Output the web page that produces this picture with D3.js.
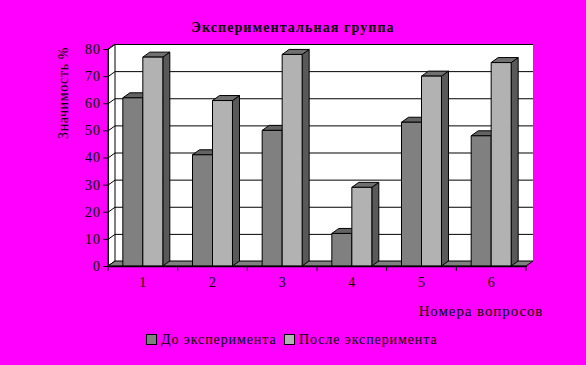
<!DOCTYPE html>
<html><head><meta charset="utf-8">
<script src="https://cdn.jsdelivr.net/npm/d3@7/dist/d3.min.js"></script>
<style>
html,body{margin:0;padding:0;background:#ff00ff;}
text{font-family:"Liberation Serif","Times New Roman",serif;fill:#000;}
</style></head><body>
<svg id="c" width="586" height="365"></svg>
<script>
const categories = ["1","2","3","4","5","6"];
const seriesNames = ["До эксперимента","После эксперимента"];
const before = [62,41,50,12,53,48];
const after = [77,61,78,29,70,75];
const yTicks = [0,10,20,30,40,50,60,70,80];

const svg = d3.select("#c");
const X0 = 108, X1 = 526, YB = 266, YT = 49;
const DX = 7, DY = -5;
const x = d3.scaleBand().domain(categories).range([X0, X1]);
const y = d3.scaleLinear().domain([0,80]).range([YB, YT]);
const bw = x.bandwidth()*0.287;

// back wall
svg.append("rect").attr("x",X0+DX).attr("y",y(80)+DY).attr("width",X1-X0).attr("height",y(0)-y(80)).attr("fill","#fff");
// left wall
svg.append("path").attr("d",`M${X0},${y(80)}L${X0+DX},${y(80)+DY}L${X0+DX},${y(0)+DY}L${X0},${y(0)}Z`).attr("fill","#fff").attr("stroke","#000").attr("stroke-width",1);
// gridlines
yTicks.forEach(v=>{
  svg.append("line").attr("x1",X0+DX).attr("x2",X1+DX).attr("y1",y(v)+DY+0.5).attr("y2",y(v)+DY+0.5).attr("stroke","#000");
  svg.append("line").attr("x1",X0).attr("x2",X0+DX).attr("y1",y(v)+0.5).attr("y2",y(v)+DY+0.5).attr("stroke","#000");
});
// floor
svg.append("path").attr("d",`M${X0},${y(0)}L${X0+DX},${y(0)+DY}L${X1+DX},${y(0)+DY}L${X1},${y(0)}Z`).attr("fill","#808080").attr("stroke","#000");

// bars
const faces = [
  {data:before, front:"#808080", side:"#595959", top:"#636363", off:-bw},
  {data:after, front:"#b2b2b2", side:"#595959", top:"#707070", off:0}
];
categories.forEach((c,i)=>{
  const cx = x(c)+x.bandwidth()/2;
  faces.forEach(f=>{
    const v = f.data[i];
    const l = cx+f.off, r = l+bw, t = y(v), b = y(0);
    const g = svg.append("g").attr("stroke","#000").attr("stroke-width",1).attr("stroke-linejoin","round");
    g.append("path").attr("d",`M${r},${b}L${r+DX},${b+DY}L${r+DX},${t+DY}L${r},${t}Z`).attr("fill",f.side);
    g.append("path").attr("d",`M${l},${t}L${l+DX},${t+DY}L${r+DX},${t+DY}L${r},${t}Z`).attr("fill",f.top);
    g.append("rect").attr("x",l).attr("y",t).attr("width",bw).attr("height",b-t).attr("fill",f.front);
  });
});

// axes
const ya = d3.axisLeft(y).tickValues(yTicks).tickSize(5).tickPadding(2);
const gy = svg.append("g").attr("transform",`translate(${X0},0)`).call(ya);
gy.select(".domain").attr("stroke","#000");
gy.selectAll("text").style("font-size","14px").style("letter-spacing","1px").attr("fill","#000");
const xa = d3.axisBottom(x).tickSize(0).tickPadding(11);
const gx = svg.append("g").attr("transform",`translate(0,${YB})`).call(xa);
gx.select(".domain").attr("stroke","#000").attr("stroke-width",1.5);
gx.selectAll("text").style("font-size","14px");
// boundary ticks
categories.concat(["end"]).forEach((c,i)=>{
  const xx = X0 + i*x.bandwidth();
  svg.append("line").attr("x1",xx).attr("x2",xx).attr("y1",YB).attr("y2",YB+5).attr("stroke","#000");
});

// titles
svg.append("text").attr("x",293).attr("y",32).attr("text-anchor","middle").style("font-size","14px").style("font-weight","bold").style("letter-spacing","1.1px").text("Экспериментальная группа");
svg.append("text").attr("transform","translate(68,93) rotate(-90)").attr("text-anchor","middle").style("font-size","14px").style("letter-spacing","0.6px").text("Значимость %");
svg.append("text").attr("x",481).attr("y",316).attr("text-anchor","middle").style("font-size","15px").style("letter-spacing","0.9px").text("Номера вопросов");

// legend
const lg = [{x:146,c:"#808080"},{x:284,c:"#b2b2b2"}];
lg.forEach((d,i)=>{
  svg.append("rect").attr("x",d.x+0.5).attr("y",334.5).attr("width",10).attr("height",10).attr("fill",d.c).attr("stroke","#000");
  svg.append("text").attr("x",d.x+15).attr("y",344).style("font-size","14px").style("letter-spacing","0.9px").text(seriesNames[i]);
});
</script></body></html>
